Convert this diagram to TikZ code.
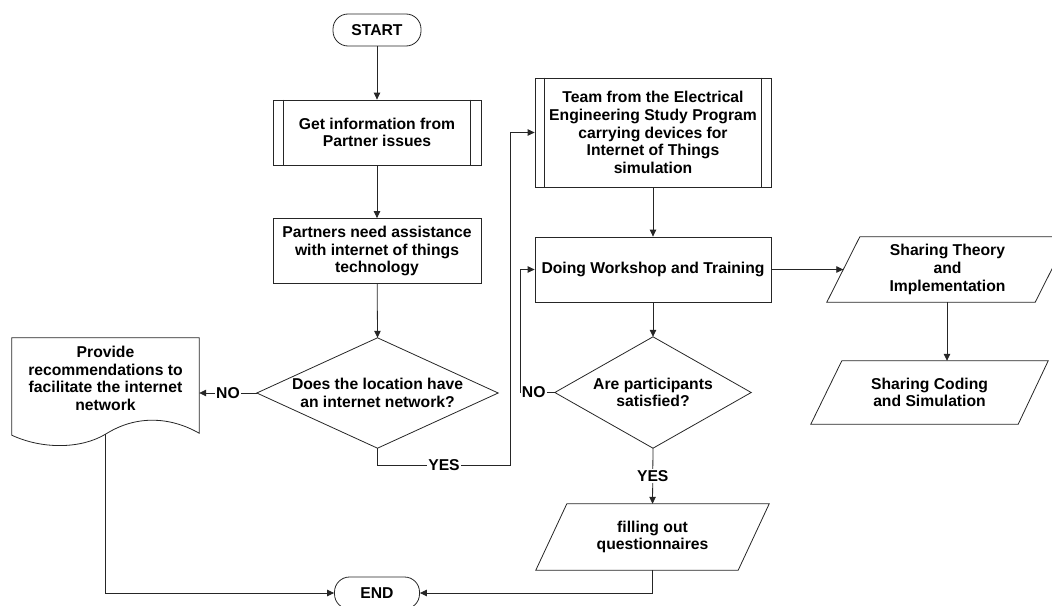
\documentclass[tikz,border=0pt]{standalone}
\usepackage{fontspec}
\setmainfont{Liberation Sans}
\usetikzlibrary{shapes.geometric,arrows.meta,calc}
\begin{document}
\begin{tikzpicture}[x=1pt,y=-1pt,
  every node/.style={font=\bfseries\fontsize{15.7}{17.7}\selectfont, align=center, inner sep=1pt},
  line/.style={draw=black!85, line width=0.8pt},
  box/.style={line, rectangle, minimum width=208pt, minimum height=65pt},
  term/.style={line, rectangle, rounded corners=15pt, minimum width=88pt, minimum height=32pt},
  ghost/.style={rectangle, draw=none},
  arr/.style={line, -{Triangle[length=7pt,width=6.5pt]}},
  lbl/.style={fill=white, inner sep=1pt}
]
\useasboundingbox (0,0) rectangle (1052,605);

% nodes
\node[term] (start) at (377,30) {START};
\node[box] (info) at (377,132.5) {Get information from\\Partner issues};
\node[box] (need) at (377,251) {Partners need assistance\\with internet of things\\technology};
\node[ghost, minimum width=241pt, minimum height=110pt] (d1) at (377.5,393) {Does the location have\\an internet network?};
\node[ghost, minimum width=187pt, minimum height=95pt] (doc) at (105.5,385.5) {};
\node (doctext) at (105.5,378.5) {Provide\\recommendations to\\facilitate the internet\\network};
\node[box, minimum width=236pt, minimum height=109pt] (team) at (653,132.5) {Team from the Electrical\\Engineering Study Program\\carrying devices for\\Internet of Things\\simulation};
\node[box, minimum width=236pt, minimum height=65pt] (work) at (653,269.5) {Doing Workshop and Training};
\node[ghost, minimum width=196pt, minimum height=111pt] (d2) at (653,392.5) {Are participants\\satisfied?};
\node[ghost, minimum width=233pt, minimum height=66pt] (fill) at (652.5,537) {filling out\\questionnaires};
\node[ghost, minimum width=241pt, minimum height=65pt] (th) at (947.5,269.5) {Sharing Theory\\and\\Implementation};
\node[ghost, minimum width=237pt, minimum height=63pt] (sc) at (929.5,392.5) {Sharing Coding\\and Simulation};
\node[term, minimum width=85pt] (end) at (377,593) {END};

% decision diamonds
\draw[line] (d1.west) -- (d1.north) -- (d1.east) -- (d1.south) -- cycle;
\draw[line] (d2.west) -- (d2.north) -- (d2.east) -- (d2.south) -- cycle;

% predefined-process side bars
\draw[line] ([xshift=11pt]info.north west) -- ([xshift=11pt]info.south west);
\draw[line] ([xshift=-11pt]info.north east) -- ([xshift=-11pt]info.south east);
\draw[line] ([xshift=10pt]team.north west) -- ([xshift=10pt]team.south west);
\draw[line] ([xshift=-10pt]team.north east) -- ([xshift=-10pt]team.south east);

% document shape
\draw[line] (doc.south west) -- (doc.north west) -- (doc.north east) -- (doc.south east)
  .. controls ($(doc.south east)+(-30,-17)$) and ($(doc.south)+(30,-18)$) .. ($(doc.south)+(0,1)$)
  .. controls ($(doc.south)+(-25,16)$) and ($(doc.south west)+(30,16)$) .. ($(doc.south west)+(0,2)$) -- cycle;
\coordinate (docb) at ($(doc.south)+(0,1)$);

% parallelograms
\draw[line] (fill.south west) -- ($(fill.north west)+(31,0)$) -- (fill.north east) -- ($(fill.south east)+(-31,0)$) -- cycle;
\draw[line] (th.south west) -- ($(th.north west)+(33,0)$) -- (th.north east) -- ($(th.south east)+(-33,0)$) -- cycle;
\draw[line] (sc.south west) -- ($(sc.north west)+(31,0)$) -- (sc.north east) -- ($(sc.south east)+(-30,0)$) -- cycle;

% connectors
\draw[arr] (start) -- (info);
\draw[arr] (info) -- (need);
\draw[arr] (need) -- (d1.north);
\draw[arr] (d1.west) -- node[lbl, pos=0.5]{NO} (d1.west -| doc.east);
\draw[arr] (d1.south) -- ++(0,17) -- node[lbl]{YES} ++(133,0) |- (team.west);
\draw[arr] (team) -- (work);
\draw[arr] (work.east) -- ($(th.west)+(16.5,0)$);
\draw[arr] (th.south -| 947,0) -- (sc.north -| 947,0);
\draw[arr] (work) -- (d2.north);
\draw[arr] (d2.west) -- node[lbl, pos=0.62]{NO} ++(-34,0) |- (work.west);
\draw[arr] (d2.south) -- node[lbl]{YES} (fill.north);
\draw[arr] (fill.south) |- (end.east);
\draw[arr] (docb) |- (end.west);
\end{tikzpicture}
\end{document}
